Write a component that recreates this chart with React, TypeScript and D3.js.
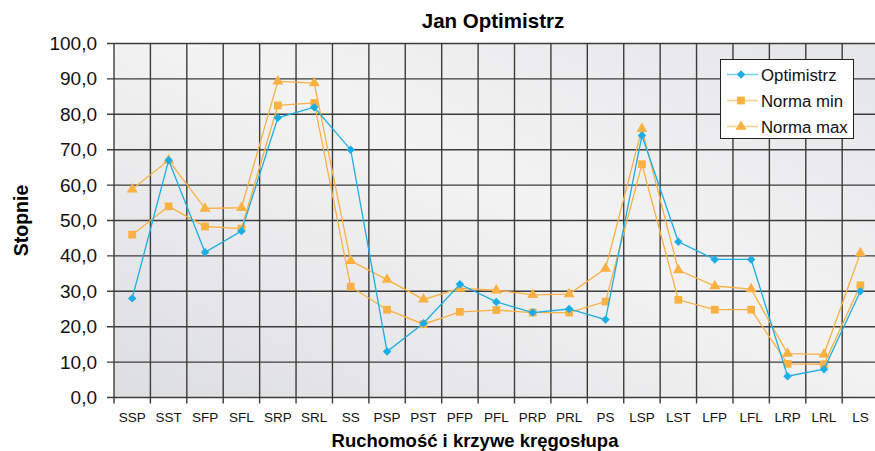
import React, { useEffect, useRef } from 'react';
import * as d3 from 'd3';

const categories = ['SSP', 'SST', 'SFP', 'SFL', 'SRP', 'SRL', 'SS', 'PSP', 'PST', 'PFP', 'PFL', 'PRP', 'PRL', 'PS', 'LSP', 'LST', 'LFP', 'LFL', 'LRP', 'LRL', 'LS'];
const optimistrz = [28, 67, 41, 47, 79, 82, 70, 13, 21, 32, 27, 24, 25, 22, 74, 44, 39, 39, 6, 8, 30];
const normaMin = [46, 54, 48.3, 47.7, 82.5, 83.2, 31.3, 24.8, 20.7, 24.2, 24.7, 24, 24, 27.1, 65.9, 27.6, 24.8, 24.8, 9.5, 9.4, 31.7];
const normaMax = [58.8, 67, 53.4, 53.6, 89.3, 88.8, 38.6, 33.3, 27.7, 30.8, 30.3, 29, 29.2, 36.4, 75.9, 36, 31.5, 30.6, 12.4, 12.2, 40.8];
const yTicks = [0, 10, 20, 30, 40, 50, 60, 70, 80, 90, 100];

const W = 875;
const H = 451;
const FONT = "'Liberation Sans', Arial, sans-serif";
const BLUE = '#1bade6';
const ORANGE = '#fbb042';

export default function App() {
  const ref = useRef<SVGSVGElement>(null);

  useEffect(() => {
    const svg = d3.select(ref.current);
    svg.selectAll('*').remove();

    const left = 114, right = 878.6, top = 43.5, bottom = 397.5;
    const x = d3.scaleBand().domain(categories).range([left, right]);
    const y = d3.scaleLinear().domain([0, 100]).range([bottom, top]);
    const cx = (c: string) => (x(c) as number) + x.bandwidth() / 2;

    const defs = svg.append('defs');
    const grad = defs.append('linearGradient').attr('id', 'bg-grad')
      .attr('x1', '0%').attr('y1', '100%').attr('x2', '100%').attr('y2', '0%');
    grad.append('stop').attr('offset', '0%').attr('stop-color', '#dddee0');
    grad.append('stop').attr('offset', '55%').attr('stop-color', '#f3f3f4');
    grad.append('stop').attr('offset', '100%').attr('stop-color', '#e4e5e7');

    svg.append('rect').attr('width', W).attr('height', H).attr('fill', '#ffffff');
    svg.append('rect')
      .attr('x', left).attr('y', top)
      .attr('width', right - left).attr('height', bottom - top)
      .attr('fill', 'url(#bg-grad)');

    // grid
    const grid = svg.append('g').attr('stroke', '#3c3c3c').attr('stroke-width', 1.4);
    yTicks.forEach(t => {
      grid.append('line').attr('x1', left - 7).attr('x2', right).attr('y1', y(t)).attr('y2', y(t));
    });
    categories.forEach(c => {
      const gx = x(c) as number;
      grid.append('line').attr('x1', gx).attr('x2', gx).attr('y1', top).attr('y2', bottom + 6);
    });

    // y tick labels
    svg.append('g').selectAll('text').data(yTicks).join('text')
      .attr('x', 97).attr('y', d => y(d) + 6.5)
      .attr('text-anchor', 'end')
      .style('font-family', FONT).style('font-size', '19px').attr('fill', '#111')
      .text(d => d3.format('.1f')(d).replace('.', ','));

    // x tick labels
    svg.append('g').selectAll('text').data(categories).join('text')
      .attr('x', d => cx(d)).attr('y', 421.5)
      .attr('text-anchor', 'middle')
      .style('font-family', FONT).style('font-size', '13.5px').attr('fill', '#111')
      .text(d => d);

    // titles
    svg.append('text').attr('x', 493).attr('y', 28).attr('text-anchor', 'middle')
      .style('font-family', FONT).style('font-size', '20.5px').style('font-weight', 'bold')
      .text('Jan Optimistrz');
    svg.append('text').attr('x', 475).attr('y', 446.5).attr('text-anchor', 'middle')
      .style('font-family', FONT).style('font-size', '18.5px').style('font-weight', 'bold')
      .text('Ruchomość i krzywe kręgosłupa');
    svg.append('text').attr('transform', `translate(28,220.5) rotate(-90)`).attr('text-anchor', 'middle')
      .style('font-family', FONT).style('font-size', '19.5px').style('font-weight', 'bold')
      .text('Stopnie');

    const line = d3.line<number>().x((_, i) => cx(categories[i])).y(d => y(d));
    const series = [
      { name: 'Optimistrz', values: optimistrz, color: BLUE, sym: d3.symbolSquare, size: 36, rot: 45 },
      { name: 'Norma min', values: normaMin, color: ORANGE, sym: d3.symbolSquare, size: 60, rot: 0 },
      { name: 'Norma max', values: normaMax, color: ORANGE, sym: d3.symbolTriangle, size: 52, rot: 0 },
    ];

    [series[2], series[1], series[0]].forEach(s => {
      svg.append('path').datum(s.values).attr('d', line)
        .attr('fill', 'none').attr('stroke', s.color).attr('stroke-width', 1.3);
      svg.append('g').selectAll('path').data(s.values).join('path')
        .attr('transform', (d, i) => `translate(${cx(categories[i])},${y(d)}) rotate(${s.rot})`)
        .attr('d', d3.symbol().type(s.sym).size(s.size)())
        .attr('fill', s.color);
    });

    // legend
    const lg = svg.append('g');
    lg.append('rect').attr('x', 720.5).attr('y', 59.5).attr('width', 133).attr('height', 79)
      .attr('fill', '#fff').attr('stroke', '#222').attr('stroke-width', 1);
    series.forEach((s, i) => {
      const ly = 74.5 + i * 26;
      lg.append('line').attr('x1', 727).attr('x2', 758).attr('y1', ly).attr('y2', ly)
        .attr('stroke', s.color).attr('stroke-opacity', 0.6).attr('stroke-width', 1.5);
      lg.append('path').attr('transform', `translate(741,${ly}) rotate(${s.rot})`)
        .attr('d', d3.symbol().type(s.sym).size(s.size)()).attr('fill', s.color);
      lg.append('text').attr('x', 761).attr('y', ly + 6)
        .style('font-family', FONT).style('font-size', '16.8px').attr('fill', '#111')
        .text(s.name);
    });
  }, []);

  return (
    <div style={{ position: 'absolute', left: 0, top: 0 }}>
      <svg ref={ref} width={W} height={H} style={{ display: 'block' }} />
    </div>
  );
}
